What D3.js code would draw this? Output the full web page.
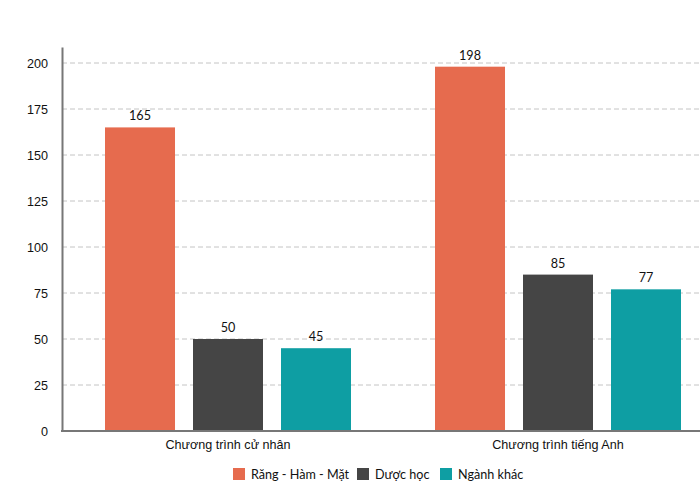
<!DOCTYPE html>
<html>
<head>
<meta charset="utf-8">
<script src="https://cdn.jsdelivr.net/npm/d3@7"></script>
<style>
  body { margin: 0; background: #fff; }
  svg { font-family: Lato, "Open Sans", sans-serif; }
</style>
</head>
<body>
<div id="chart"></div>
<script>
// Chart data
const groups = ["Chương trình cử nhân", "Chương trình tiếng Anh"];
const series = ["Răng - Hàm - Mặt", "Dược học", "Ngành khác"];
const colours = ["#E66B4E", "#454545", "#0E9EA3"];
const rhmValues = [165, 198];
const duocValues = [50, 85];
const khacValues = [45, 77];
const yTicks = [0, 25, 50, 75, 100, 125, 150, 175, 200];

function drawChart() {
  const width = 700;
  const height = 494;
  const margin = { top: 47, right: 0, bottom: 63, left: 62 };
  const baseY = height - margin.bottom;
  const fontSize = "12.6px";
  const textColour = "#111";

  const svg = d3
    .select("#chart")
    .append("svg")
    .attr("width", width)
    .attr("height", height);

  const data = groups.map((g, i) => ({
    group: g,
    values: [rhmValues[i], duocValues[i], khacValues[i]]
  }));

  // Scales
  const x0 = d3.scaleBand().domain(groups).range([63, 723]).padding(0);
  const x1 = d3
    .scaleBand()
    .domain(series)
    .range([42, 288])
    .paddingInner(0.2045)
    .paddingOuter(0);
  const y = d3.scaleLinear().domain([0, 208.7]).range([baseY, margin.top]);

  // Gridlines
  svg
    .append("g")
    .selectAll("line")
    .data(yTicks.filter((d) => d > 0))
    .enter()
    .append("line")
    .attr("x1", margin.left)
    .attr("x2", width)
    .attr("y1", (d) => y(d))
    .attr("y2", (d) => y(d))
    .attr("stroke", "#c4c4c4")
    .attr("stroke-dasharray", "5,3");

  // Y axis
  const yAxis = d3.axisLeft(y).tickValues(yTicks).tickSize(0).tickPadding(14);
  const gy = svg
    .append("g")
    .attr("transform", `translate(${margin.left},0)`)
    .call(yAxis);
  gy.select(".domain").attr("stroke", "#777").attr("stroke-width", 2);
  gy.selectAll("text").style("font-size", fontSize).attr("fill", textColour);

  // Bars
  const gGroup = svg
    .selectAll(".grp")
    .data(data)
    .enter()
    .append("g")
    .attr("class", "grp")
    .attr("transform", (d) => `translate(${x0(d.group)},0)`);

  const bars = gGroup
    .selectAll(".bar")
    .data((d) => d.values.map((v, i) => ({ key: series[i], value: v, i })))
    .enter();

  bars
    .append("rect")
    .attr("class", "bar")
    .attr("x", (d) => x1(d.key))
    .attr("y", (d) => y(d.value))
    .attr("width", x1.bandwidth())
    .attr("height", (d) => baseY - y(d.value))
    .attr("fill", (d) => colours[d.i]);

  bars
    .append("text")
    .attr("x", (d) => x1(d.key) + x1.bandwidth() / 2)
    .attr("y", (d) => y(d.value) - 7)
    .attr("text-anchor", "middle")
    .style("font-size", fontSize)
    .attr("fill", textColour)
    .text((d) => d.value);

  // X axis
  const xAxis = d3.axisBottom(x0).tickSize(0).tickPadding(9);
  const gx = svg
    .append("g")
    .attr("transform", `translate(0,${baseY})`)
    .call(xAxis);
  gx.select(".domain").remove();
  gx.selectAll("text").style("font-size", fontSize).attr("fill", textColour);
  svg
    .append("line")
    .attr("x1", margin.left - 1)
    .attr("x2", width)
    .attr("y1", baseY)
    .attr("y2", baseY)
    .attr("stroke", "#777")
    .attr("stroke-width", 2);

  // Legend
  const legendX = [233, 357, 440];
  const legend = svg
    .append("g")
    .selectAll("g")
    .data(series)
    .enter()
    .append("g")
    .attr("transform", (d, i) => `translate(${legendX[i]},468)`);
  legend
    .append("rect")
    .attr("width", 12)
    .attr("height", 12)
    .attr("fill", (d, i) => colours[i]);
  legend
    .append("text")
    .attr("x", 18)
    .attr("y", 11)
    .style("font-size", fontSize)
    .attr("fill", textColour)
    .text((d) => d);
}

drawChart();
</script>
</body>
</html>
